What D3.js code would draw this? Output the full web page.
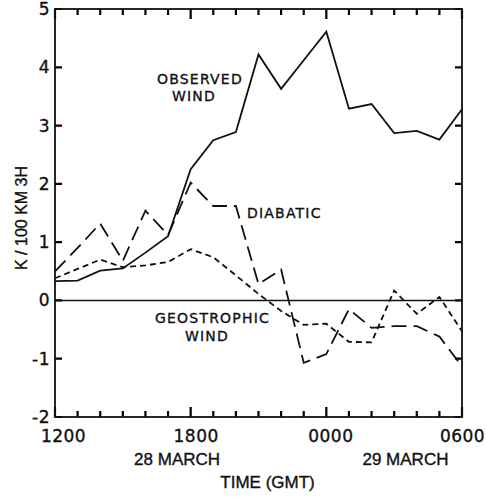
<!DOCTYPE html>
<html lang="en">
<head>
    <meta charset="UTF-8">
    <title>Observed, diabatic and geostrophic wind</title>
    <script src="https://d3js.org/d3.v7.min.js"></script>
    <style>
        body { margin: 0; background: #fff; }
        text { fill: #111; stroke: #111; stroke-width: 0.35px; }
    </style>
</head>
<body>
    <script>
        // hours after 1200 GMT 28 March
        const hours = [0, 1, 2, 3, 4, 5, 6, 7, 8, 9, 10, 11, 12, 13, 14, 15, 16, 17, 18];
        const observed = [0.33, 0.34, 0.51, 0.55, 0.82, 1.1, 2.25, 2.75, 2.89, 4.22, 3.63, 4.12, 4.61, 3.29, 3.37, 2.87, 2.91, 2.76, 3.28];
        const diabatic = [0.5, 0.9, 1.32, 0.68, 1.54, 1.12, 2.02, 1.62, 1.62, 0.28, 0.53, -1.07, -0.92, -0.15, -0.47, -0.44, -0.44, -0.62, -1.13];
        const geostrophic = [0.38, 0.54, 0.7, 0.57, 0.6, 0.66, 0.88, 0.74, 0.43, 0.11, -0.18, -0.42, -0.4, -0.71, -0.72, 0.17, -0.23, 0.06, -0.53];

        const timeTicks = [0, 6, 12, 18];
        const timeLabels = ["1200", "1800", "0000", "0600"];
        const dayLabels = ["28 MARCH", "29 MARCH"];
        const yTicks = [-2, -1, 0, 1, 2, 3, 4, 5];

        const width = 487, height = 498;
        const plotLeft = 55, plotRight = 462, plotTop = 9, plotBottom = 417;

        const x = d3.scaleLinear().domain([0, 18]).range([plotLeft, plotRight]);
        const y = d3.scaleLinear().domain([-2, 5]).range([plotBottom, plotTop]);

        const svg = d3.select("body").append("svg")
            .attr("width", width)
            .attr("height", height);

        // axis labels
        const gBottom = svg.append("g")
            .attr("transform", `translate(0,${plotBottom})`)
            .call(d3.axisBottom(x).tickValues(timeTicks).tickSize(0).tickPadding(13)
                .tickFormat((d, i) => timeLabels[i]));
        gBottom.selectAll(".tick text").attr("dx", (d, i) => [8, 5, 4, 0][i]);

        svg.append("g")
            .attr("transform", `translate(${plotLeft},0)`)
            .call(d3.axisLeft(y).tickValues(yTicks).tickSize(0).tickPadding(5).tickFormat(d => String(d)));

        svg.selectAll(".domain").remove();
        svg.selectAll(".tick line").remove();
        svg.selectAll(".tick text")
            .attr("font-family", "DejaVu Sans")
            .attr("font-size", 17)
            .attr("letter-spacing", 0.5)
            .attr("fill", "#111");

        // inward tick marks on all four sides
        const tickGroup = svg.append("g")
            .attr("fill", "none")
            .attr("stroke", "#000")
            .attr("stroke-width", 2.2);
        const isMajor = d => timeTicks.includes(d);

        tickGroup.selectAll("path.hour").data(hours).join("path")
            .attr("class", "hour")
            .attr("d", d => `M${x(d)},${plotTop}V${plotTop + (isMajor(d) ? 10 : 6)}M${x(d)},${plotBottom}V${plotBottom - (isMajor(d) ? 10 : 6)}`);

        tickGroup.selectAll("path.value").data(yTicks).join("path")
            .attr("class", "value")
            .attr("d", d => `M${plotLeft},${y(d)}H${plotLeft + 7}M${plotRight},${y(d)}H${plotRight - 7}`);

        // frame
        svg.append("rect")
            .attr("x", plotLeft).attr("y", plotTop)
            .attr("width", plotRight - plotLeft).attr("height", plotBottom - plotTop)
            .attr("fill", "none")
            .attr("stroke", "#111")
            .attr("stroke-width", 1.8);

        // zero line
        svg.append("line")
            .attr("x1", plotLeft).attr("x2", plotRight)
            .attr("y1", y(0)).attr("y2", y(0))
            .attr("stroke", "#111")
            .attr("stroke-width", 1.6);

        const line = d3.line()
            .x((d, i) => x(hours[i]))
            .y(d => y(d));

        const series = [
            { values: observed, dash: null },
            { values: diabatic, dash: "15,7" },
            { values: geostrophic, dash: "6,4" }
        ];

        svg.append("g")
            .selectAll("path").data(series).join("path")
            .attr("d", d => line(d.values))
            .attr("fill", "none")
            .attr("stroke", "#111")
            .attr("stroke-width", 1.8)
            .attr("stroke-linejoin", "miter")
            .attr("stroke-dasharray", d => d.dash);

        // series labels
        const label = (txt, px, py) => svg.append("text")
            .attr("x", px).attr("y", py)
            .attr("font-family", "DejaVu Sans")
            .attr("font-size", 14)
            .attr("letter-spacing", 1.2)
            .text(txt);

        label("OBSERVED", 157, 84);
        label("WIND", 172, 101);
        label("DIABATIC", 247, 218);
        label("GEOSTROPHIC", 155, 323);
        label("WIND", 185, 341);

        // date labels and axis titles
        svg.selectAll("text.day").data(dayLabels).join("text")
            .attr("class", "day")
            .attr("x", (d, i) => i === 0 ? x(5.4) : x(15.5))
            .attr("y", 465)
            .attr("text-anchor", "middle")
            .attr("font-family", "Liberation Sans, Arial")
            .attr("font-size", 17)
            .text(d => d);

        svg.append("text")
            .attr("x", x(9.4))
            .attr("y", 488)
            .attr("text-anchor", "middle")
            .attr("font-family", "Liberation Sans, Arial")
            .attr("font-size", 17)
            .text("TIME (GMT)");

        svg.append("text")
            .attr("transform", "translate(27,218) rotate(-90)")
            .attr("text-anchor", "middle")
            .attr("font-family", "Liberation Sans, Arial")
            .attr("font-size", 16)
            .text("K / 100 KM  3H");
    </script>
</body>
</html>
